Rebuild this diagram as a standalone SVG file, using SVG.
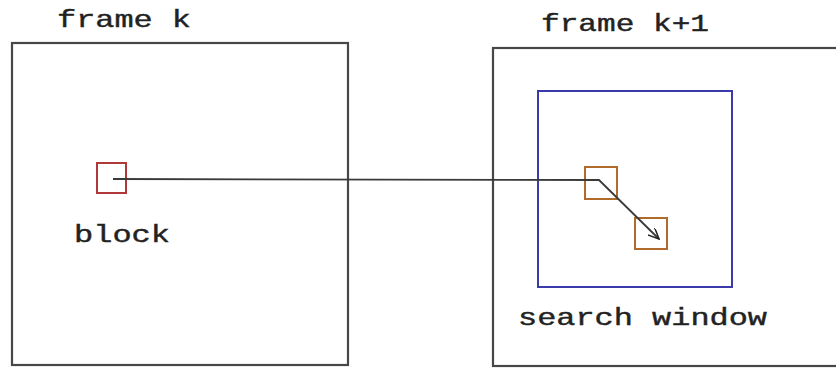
<svg xmlns="http://www.w3.org/2000/svg" width="836" height="370" viewBox="0 0 836 370">
<style>
.frame{fill:none;stroke:#474747;stroke-width:2.2}
.lbl{font-family:"Liberation Mono","DejaVu Sans Mono",monospace;font-size:24px;fill:#222;stroke:#222;stroke-width:0.4}
.conn{fill:none;stroke:#3a3a3a;stroke-width:1.8}
</style>
<defs>
<marker id="arr" viewBox="0 0 12 10" refX="11" refY="5" markerWidth="12" markerHeight="10" markerUnits="userSpaceOnUse" orient="auto">
<path d="M0,0 L11,5 L0,10" fill="none" stroke="#222" stroke-width="1.5"/>
</marker>
</defs>
<rect width="836" height="370" fill="#fff"/>
<g id="frame-k">
<rect class="frame" x="12" y="43" width="336" height="322"/>
<text class="lbl" x="57" y="27" textLength="134" lengthAdjust="spacingAndGlyphs">frame k</text>
</g>
<g id="frame-k1">
<rect class="frame" x="493" y="48" width="360" height="318"/>
<text class="lbl" x="541" y="31" textLength="168" lengthAdjust="spacingAndGlyphs">frame k+1</text>
</g>
<g id="search-window">
<rect x="538" y="91" width="194" height="196" fill="none" stroke="#3a3aa8" stroke-width="2"/>
<text class="lbl" x="518" y="325" textLength="249" lengthAdjust="spacingAndGlyphs">search window</text>
</g>
<g id="block">
<rect x="97" y="163" width="29" height="30" fill="none" stroke="#b03838" stroke-width="2"/>
<text class="lbl" x="74" y="242" textLength="96" lengthAdjust="spacingAndGlyphs">block</text>
</g>
<g id="cand1">
<rect x="585" y="167" width="32" height="32" fill="none" stroke="#b06a2c" stroke-width="2"/>
</g>
<g id="cand2">
<rect x="635" y="218" width="32" height="31" fill="none" stroke="#b06a2c" stroke-width="2"/>
</g>
<g id="connectors">
<polyline class="conn" points="113,179 599,180 659,239" marker-end="url(#arr)"/>
</g>
</svg>
